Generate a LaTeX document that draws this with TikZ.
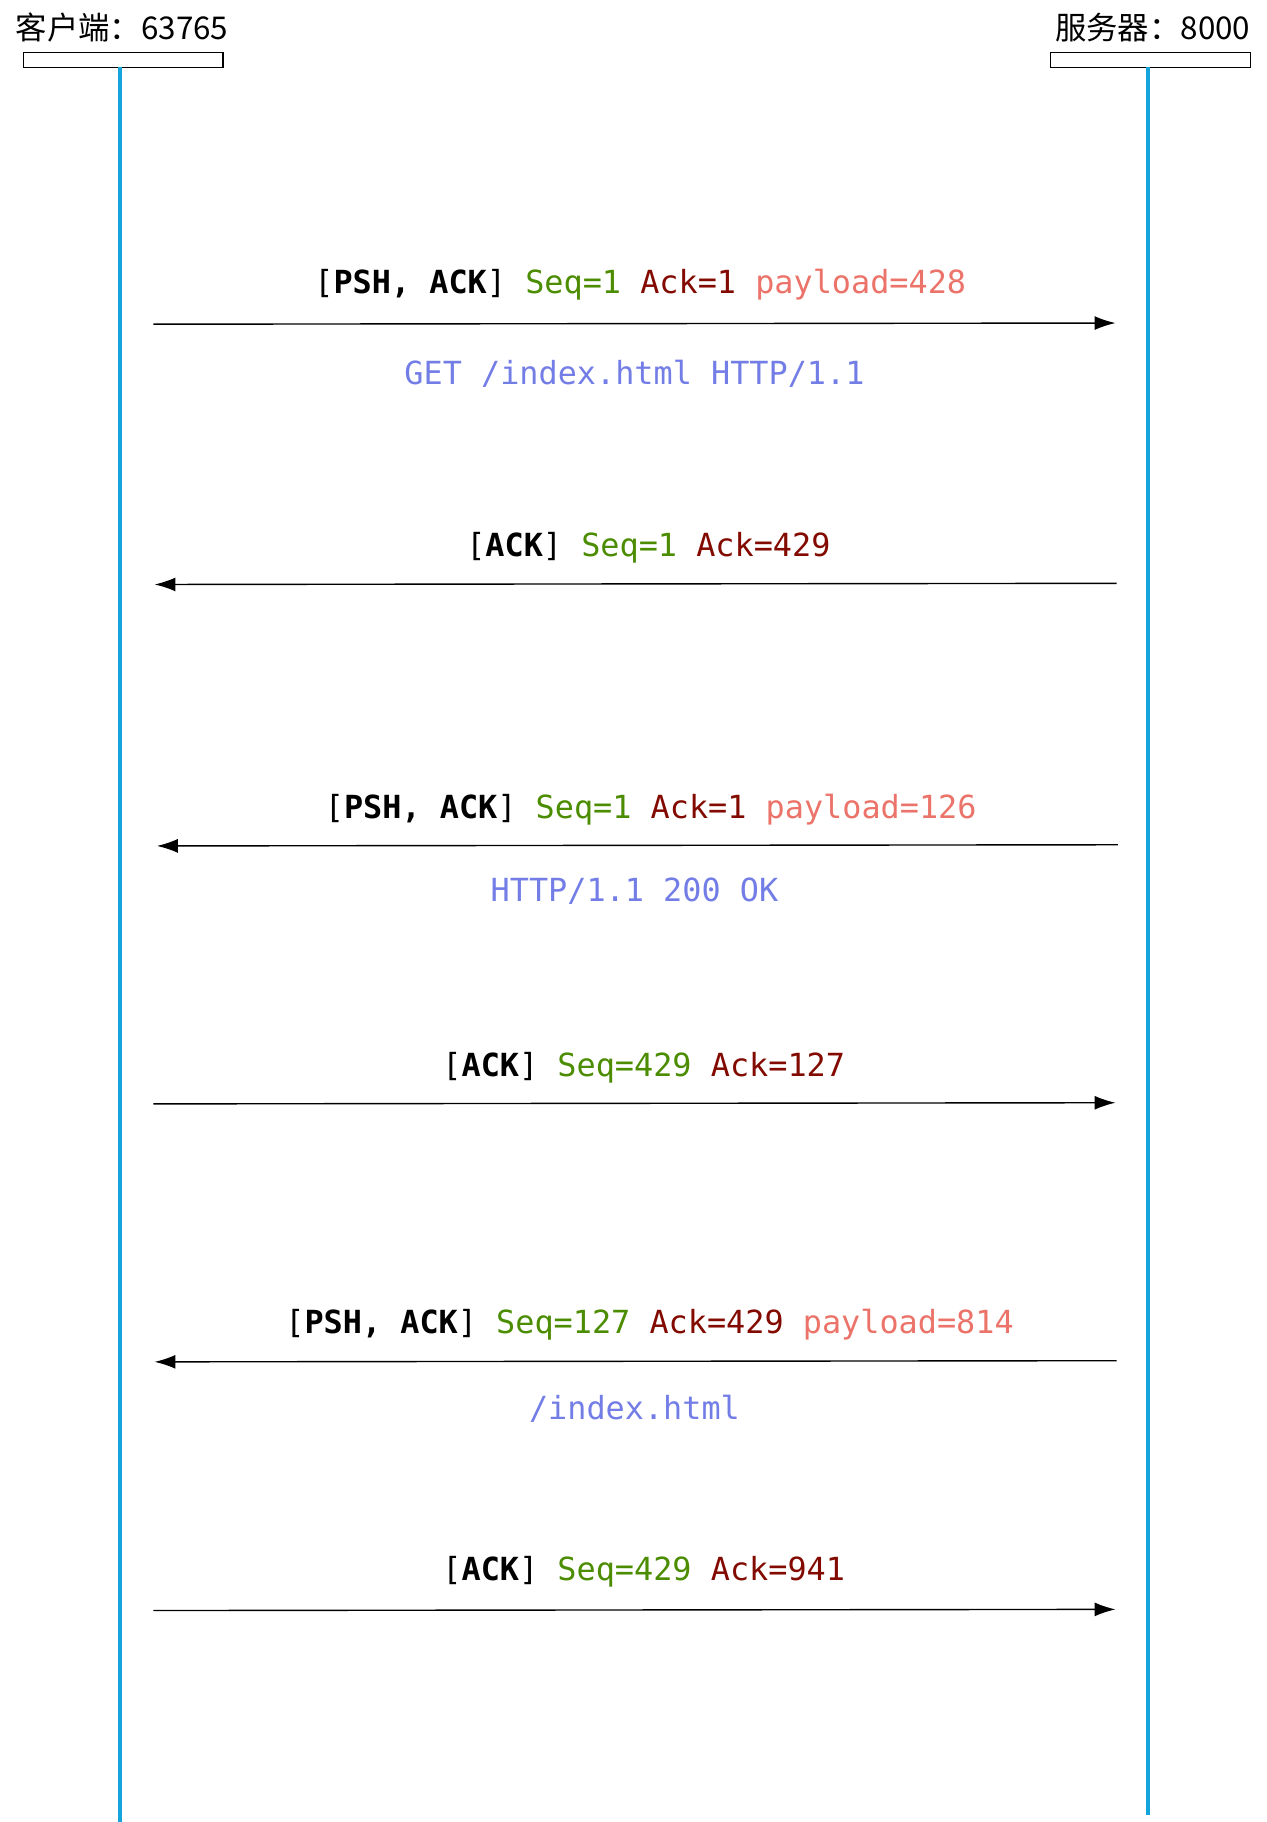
\documentclass[tikz,border=0pt]{standalone}
\usepackage{fontspec}
\setmonofont{DejaVu Sans Mono}
\newfontfamily\cjk{Noto Sans CJK SC}
\usetikzlibrary{arrows.meta}
\definecolor{lifeblue}{RGB}{20,165,220}
\definecolor{seqgreen}{RGB}{75,140,0}
\definecolor{ackred}{RGB}{130,10,0}
\definecolor{paysalmon}{RGB}{235,115,105}
\definecolor{bodyblue}{RGB}{115,125,230}
\tikzset{
  lifeline/.style={draw=lifeblue,line width=1.6pt},
  headbox/.style={draw,line width=0.6pt},
  msg/.style={-{Latex[length=9pt,width=6pt]},line width=0.6pt},
  lbl/.style={font=\ttfamily\fontsize{13.7}{16}\selectfont,inner sep=0pt},
  head/.style={font=\cjk\fontsize{13.5}{16}\selectfont,inner sep=0pt}
}
\newcommand{\flg}[1]{[\textbf{#1}]}
\newcommand{\sq}[1]{\textcolor{seqgreen}{Seq=#1}}
\newcommand{\ak}[1]{\textcolor{ackred}{Ack=#1}}
\newcommand{\pl}[1]{\textcolor{paysalmon}{payload=#1}}
\begin{document}
\begin{tikzpicture}[x=0.5pt,y=-0.5pt]
\useasboundingbox (0,0) rectangle (1090,1568);

% participants
\node[head] (cname) at (105,24) {客户端：63765};
\node[head] (sname) at (992,24) {服务器：8000};
\draw[headbox] (20,45) rectangle (192,58);
\draw[headbox] (904,45) rectangle (1076,58);
\coordinate (ctop) at (103,58);
\coordinate (cbot) at (103,1568);
\coordinate (stop) at (988,58);
\coordinate (sbot) at (988,1562);
\draw[lifeline] (ctop) -- (cbot);
\draw[lifeline] (stop) -- (sbot);

% messages
\coordinate (m1a) at (132,279);  \coordinate (m1b) at (960,278);
\coordinate (m2a) at (961,502);  \coordinate (m2b) at (133,503);
\coordinate (m3a) at (962,727);  \coordinate (m3b) at (135,728);
\coordinate (m4a) at (132,950);  \coordinate (m4b) at (960,949);
\coordinate (m5a) at (961,1171); \coordinate (m5b) at (133,1172);
\coordinate (m6a) at (132,1386); \coordinate (m6b) at (960,1385);
\draw[msg] (m1a) -- (m1b);
\draw[msg] (m2a) -- (m2b);
\draw[msg] (m3a) -- (m3b);
\draw[msg] (m4a) -- (m4b);
\draw[msg] (m5a) -- (m5b);
\draw[msg] (m6a) -- (m6b);

% labels
\node[lbl] (l1) at (551,245) {\flg{PSH, ACK} \sq{1} \ak{1} \pl{428}};
\node[lbl,text=bodyblue] (b1) at (546,322) {GET /index.html HTTP/1.1};
\node[lbl] (l2) at (558,471) {\flg{ACK} \sq{1} \ak{429}};
\node[lbl] (l3) at (560,697) {\flg{PSH, ACK} \sq{1} \ak{1} \pl{126}};
\node[lbl,text=bodyblue] (b3) at (546,767) {HTTP/1.1 200 OK};
\node[lbl] (l4) at (554,919) {\flg{ACK} \sq{429} \ak{127}};
\node[lbl] (l5) at (559,1140) {\flg{PSH, ACK} \sq{127} \ak{429} \pl{814}};
\node[lbl,text=bodyblue] (b5) at (546,1212) {/index.html};
\node[lbl] (l6) at (554,1353) {\flg{ACK} \sq{429} \ak{941}};
\end{tikzpicture}
\end{document}
